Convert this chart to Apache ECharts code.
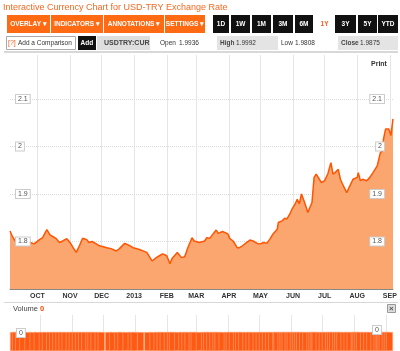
<!DOCTYPE html>
<html>
<head>
<meta charset="utf-8">
<script src="https://cdn.jsdelivr.net/npm/echarts@6/dist/echarts.min.js"></script>
<style>
  html, body { margin: 0; padding: 0; background: #fff; }
  #chart { width: 400px; height: 351px; }
</style>
</head>
<body>
<div id="chart"></div>
<script>
// USD-TRY, sampled off the 1Y chart
const dates = ['2012-09-05','2012-09-07','2012-09-10','2012-09-14','2012-09-19','2012-09-24','2012-09-28','2012-10-03','2012-10-06','2012-10-10',
  '2012-10-13','2012-10-16','2012-10-19','2012-10-22','2012-10-25','2012-10-29','2012-11-01','2012-11-04','2012-11-07','2012-11-10',
  '2012-11-13','2012-11-17','2012-11-19','2012-11-22','2012-11-26','2012-11-29','2012-12-06','2012-12-10','2012-12-15','2012-12-18',
  '2012-12-23','2012-12-28','2012-12-31','2013-01-06','2013-01-13','2013-01-18','2013-01-22','2013-01-25','2013-01-28','2013-02-01',
  '2013-02-04','2013-02-06','2013-02-11','2013-02-15','2013-02-18','2013-02-21','2013-02-25','2013-02-27','2013-03-04','2013-03-09',
  '2013-03-11','2013-03-14','2013-03-17','2013-03-20','2013-03-22','2013-03-26','2013-03-31','2013-04-02','2013-04-05','2013-04-09',
  '2013-04-11','2013-04-14','2013-04-18','2013-04-21','2013-04-24','2013-04-28','2013-05-01','2013-05-04','2013-05-07','2013-05-10',
  '2013-05-13','2013-05-17','2013-05-18','2013-05-22','2013-05-24','2013-05-26','2013-05-29','2013-05-31','2013-06-03','2013-06-05',
  '2013-06-07','2013-06-09','2013-06-12','2013-06-15','2013-06-19','2013-06-21','2013-06-23','2013-06-24','2013-06-28','2013-07-01',
  '2013-07-04','2013-07-07','2013-07-09','2013-07-11','2013-07-14','2013-07-16','2013-07-18','2013-07-22','2013-07-25','2013-07-28',
  '2013-08-01','2013-08-02','2013-08-04','2013-08-06','2013-08-10','2013-08-13','2013-08-16','2013-08-20','2013-08-23','2013-08-25',
  '2013-08-26','2013-08-28','2013-08-31','2013-09-02','2013-09-04'];
const rates = [1.822,1.812,1.801,1.798,1.798,1.798,1.795,1.804,1.808,1.825,
  1.814,1.810,1.806,1.798,1.801,1.806,1.798,1.787,1.777,1.791,
  1.807,1.804,1.798,1.800,1.795,1.791,1.787,1.785,1.780,1.785,
  1.796,1.791,1.787,1.783,1.777,1.759,1.766,1.770,1.774,1.770,
  1.753,1.764,1.777,1.766,1.768,1.787,1.808,1.801,1.798,1.801,
  1.808,1.807,1.816,1.824,1.817,1.821,1.816,1.806,1.801,1.787,
  1.787,1.791,1.798,1.803,1.801,1.796,1.795,1.798,1.796,1.805,
  1.816,1.826,1.840,1.844,1.849,1.847,1.858,1.868,1.879,1.889,
  1.879,1.900,1.882,1.861,1.882,1.935,1.942,1.938,1.924,1.928,
  1.942,1.966,1.942,1.945,1.952,1.931,1.921,1.903,1.917,1.931,
  1.935,1.945,1.928,1.931,1.928,1.935,1.945,1.959,1.987,1.991,
  2.016,2.037,2.037,2.023,2.058];
// volume panel shows flat full-height bars
const volume = [1,1,1,1,1,1,1,1,1,1,1,1,1,1,1,1,1,1,1,1,1,1,1,1,1,1,1,1,1,1,1,1,1,1,1,1,1,1,1,1,
  1,1,1,1,1,1,1,1,1,1,1,1,1,1,1,1,1,1,1,1,1,1,1,1,1,1,1,1,1,1,1,1,1,1,1,1,1,1,1,1,
  1,1,1,1,1,1,1,1,1,1,1,1,1,1,1,1,1,1,1,1,1,1,1,1,1,1,1,1,1,1,1,1,1,1,1];
const monthNames = ['JAN','FEB','MAR','APR','MAY','JUN','JUL','AUG','SEP','OCT','NOV','DEC'];
const rateTicks = [1.8, 1.9, 2, 2.1];

const FONT = 'Liberation Sans, Arial, sans-serif';
const ORANGE = '#ff6a13';

const chart = echarts.init(document.getElementById('chart'));

// toolbar pieces
function button(x, y, w, h, label, fill, color) {
  return [
    { type: 'rect', shape: { x: x, y: y, width: w, height: h }, style: { fill: fill } },
    { type: 'text', x: x + w / 2, y: y + h / 2,
      style: { text: label, fill: color || '#fff', font: 'bold 6.5px ' + FONT, align: 'center', verticalAlign: 'middle' } }
  ];
}
function plainText(x, y, txt, color, bold, size) {
  return { type: 'text', x: x, y: y,
    style: { text: txt, fill: color, font: (bold ? 'bold ' : '') + (size || 7.5) + 'px ' + FONT, verticalAlign: 'middle' } };
}
function tagBox(x, y, txt) {
  return { type: 'text', x: x, y: y, z: 100,
    style: { text: txt, fill: '#555', font: '7px ' + FONT, verticalAlign: 'middle',
      backgroundColor: '#fff', borderColor: '#ccc', borderWidth: 1, padding: [1, 2, 0, 2] } };
}

let chrome = [
  { type: 'text', x: 3, y: 8, style: { text: 'Interactive Currency Chart for USD-TRY Exchange Rate', fill: '#f26a21', font: '9px ' + FONT, verticalAlign: 'middle' } }
];
chrome = chrome.concat(
  button(7, 15, 43, 18, 'OVERLAY ▾', ORANGE),
  button(51, 15, 52, 18, 'INDICATORS ▾', ORANGE),
  button(104, 15, 60, 18, 'ANNOTATIONS ▾', ORANGE),
  button(165, 15, 40, 18, 'SETTINGS ▾', ORANGE),
  button(213, 15, 16, 18, '1D', '#111'),
  button(231, 15, 19, 18, '1W', '#111'),
  button(252, 15, 19, 18, '1M', '#111'),
  button(273, 15, 20, 18, '3M', '#111'),
  button(295, 15, 18, 18, '6M', '#111'),
  button(315, 15, 19, 18, '1Y', '#fff', '#ff5a1a'),
  button(335, 15, 21, 18, '3Y', '#111'),
  button(358, 15, 19, 18, '5Y', '#111'),
  button(378, 15, 20, 18, 'YTD', '#111')
);
chrome.push(
  { type: 'rect', shape: { x: 6.5, y: 36.5, width: 69, height: 13 }, style: { fill: '#fff', stroke: '#aaa', lineWidth: 1 } },
  plainText(8, 43, '[?]', '#f25c1e', false, 7),
  plainText(18, 43, 'Add a Comparison', '#333', false, 6.5),
  { type: 'rect', shape: { x: 78, y: 36, width: 18, height: 14 }, style: { fill: '#111' } },
  plainText(80.5, 43, 'Add', '#fff', true, 6.5),
  { type: 'rect', shape: { x: 97, y: 36, width: 53, height: 14 }, style: { fill: '#dedede' } },
  plainText(104, 43, 'USDTRY:CUR', '#444', true, 7),
  plainText(160, 43, 'Open', '#333', false, 6.5),
  plainText(179, 43, '1.9936', '#333', false, 6.5),
  { type: 'rect', shape: { x: 217, y: 36, width: 61, height: 14 }, style: { fill: '#e4e4e4' } },
  plainText(220, 43, 'High', '#444', true, 6.5),
  plainText(236, 43, '1.9992', '#333', false, 6.5),
  plainText(281, 43, 'Low', '#333', false, 6.5),
  plainText(295, 43, '1.9808', '#333', false, 6.5),
  { type: 'rect', shape: { x: 338, y: 36, width: 60, height: 14 }, style: { fill: '#e4e4e4' } },
  plainText(341, 43, 'Close', '#444', true, 6.5),
  plainText(360, 43, '1.9875', '#333', false, 6.5),
  { type: 'rect', shape: { x: 4, y: 51, width: 394, height: 2 }, style: { fill: '#d8d8d8' } },
  plainText(371, 64, 'Print', '#333', true, 7),
  // volume header
  { type: 'rect', shape: { x: 4, y: 302, width: 394, height: 1 }, style: { fill: '#d8d8d8' } },
  plainText(13, 309, 'Volume', '#444', false, 7.5),
  plainText(40, 309, '0', '#ff4a00', true, 7.5),
  { type: 'rect', shape: { x: 387.5, y: 304.5, width: 8, height: 8 }, style: { fill: '#ddd', stroke: '#999', lineWidth: 1 } },
  plainText(389, 308.5, '×', '#555', true, 8),
  tagBox(17, 333, '0'),
  tagBox(373, 330, '0')
);

const yLabel = {
  inside: true,
  fontSize: 7,
  fontFamily: FONT,
  color: '#555',
  backgroundColor: '#fff',
  borderColor: '#ccc',
  borderWidth: 1,
  padding: [1, 2, 0, 2],
  showMinLabel: false,
  showMaxLabel: false,
  formatter: v => (rateTicks.some(t => Math.abs(t - v) < 1e-6) ? String(+v.toFixed(1)) : '')
};

// shared scale for the rate axes
const rateScale = { type: 'value', gridIndex: 0, min: 1.7, max: 2.1926, interval: 0.1,
  axisLine: { show: false }, axisTick: { show: false } };

const option = {
  backgroundColor: '#fff',
  animation: false,
  grid: [
    { left: 10, right: 7, top: 55, height: 234 },
    { left: 10, right: 7, top: 315, height: 36 }
  ],
  xAxis: [
    {
      type: 'time', gridIndex: 0,
      min: '2012-09-05', max: '2013-09-04',
      minInterval: 28 * 864e5, maxInterval: 31 * 864e5,
      axisLine: { lineStyle: { color: '#888', width: 1 } },
      axisTick: { show: false },
      axisLabel: {
        interval: 0, fontSize: 7, fontWeight: 'bold', fontFamily: FONT, color: '#333', margin: 4,
        showMinLabel: false, showMaxLabel: false,
        formatter: function (value) {
          const d = new Date(value);
          if (d.getDate() !== 1) return '';
          return d.getMonth() === 0 ? String(d.getFullYear()) : monthNames[d.getMonth()];
        }
      },
      splitLine: { show: true, showMinLine: false, showMaxLine: false, lineStyle: { color: '#e6e6e6' } }
    },
    {
      type: 'time', gridIndex: 1,
      min: '2012-09-05', max: '2013-09-04',
      minInterval: 28 * 864e5, maxInterval: 31 * 864e5,
      axisLine: { show: false }, axisTick: { show: false }, axisLabel: { show: false },
      splitLine: { show: true, showMinLine: false, showMaxLine: false, lineStyle: { color: '#e6e6e6' } }
    }
  ],
  yAxis: [
    // grid lines only, stay under the area
    Object.assign({}, rateScale, {
      position: 'left', axisLabel: { show: false },
      splitLine: { show: true, showMinLine: false, showMaxLine: false, lineStyle: { color: '#dcdcdc', type: 'dotted' } }
    }),
    // boxed labels on top of the area
    Object.assign({}, rateScale, {
      position: 'left', z: 10, axisLabel: Object.assign({ margin: 6 }, yLabel), splitLine: { show: false }
    }),
    Object.assign({}, rateScale, {
      position: 'right', z: 10, axisLabel: Object.assign({ margin: 9 }, yLabel), splitLine: { show: false }
    }),
    {
      type: 'value', gridIndex: 1, min: 0, max: 1.9,
      axisLine: { show: false }, axisTick: { show: false }, axisLabel: { show: false },
      splitLine: { show: false }
    }
  ],
  series: [
    {
      name: 'USD-TRY',
      type: 'line',
      xAxisIndex: 0, yAxisIndex: 0,
      data: dates.map((d, i) => [d, rates[i]]),
      showSymbol: false,
      lineStyle: { color: '#ff5500', width: 1.5 },
      areaStyle: { color: '#fba56f', opacity: 1 }
    },
    {
      name: 'Volume',
      type: 'bar',
      xAxisIndex: 1, yAxisIndex: 3,
      data: dates.map((d, i) => [d, volume[i]]),
      barWidth: 7,
      itemStyle: { color: '#ff5a14', borderColor: '#ffa478', borderWidth: 0.6 }
    }
  ],
  graphic: chrome
};

chart.setOption(option);
</script>
</body>
</html>
